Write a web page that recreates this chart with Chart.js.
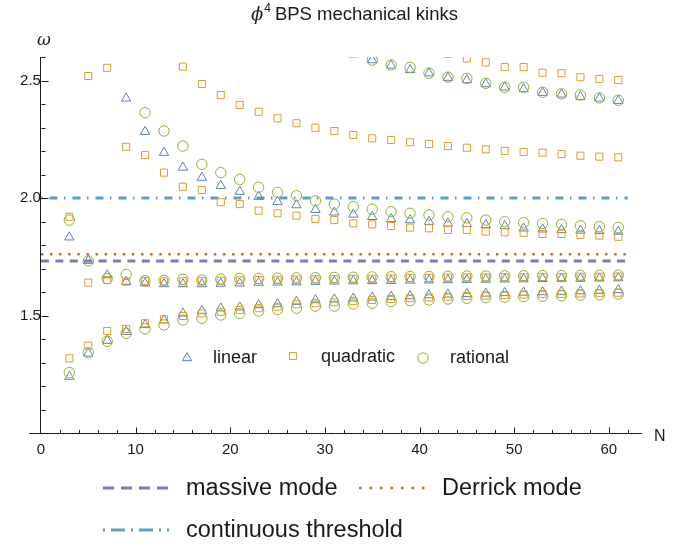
<!DOCTYPE html>
<html><head><meta charset="utf-8">
<script src="https://cdn.jsdelivr.net/npm/chart.js@4/dist/chart.umd.min.js"></script>
<style>html,body{margin:0;padding:0;background:#fff;}#wrap{width:687px;height:547px;}</style>
</head><body><div id="wrap"><canvas id="c" width="687" height="547"></canvas></div>
<script>
// ---------- data ----------
const N = [3,5,7,9,11,13,15,17,19,21,23,25,27,29,31,33,35,37,39,41,43,45,47,49,51,53,55,57,59,61];

const linearLow  = [1.240,1.339,1.393,1.431,1.460,1.480,1.509,1.520,1.531,1.535,1.545,1.549,1.559,1.566,1.569,1.573,1.577,1.580,1.583,1.587,1.590,1.592,1.594,1.596,1.598,1.600,1.602,1.604,1.606,1.609];
const linearMid  = [1.833,1.733,1.672,1.644,1.637,1.634,1.634,1.634,1.636,1.637,1.640,1.641,1.642,1.644,1.645,1.646,1.647,1.648,1.649,1.650,1.651,1.652,1.653,1.654,1.655,1.656,1.657,1.657,1.658,1.659];
const linearHigh = [null,null,null,2.424,2.282,2.193,2.130,2.087,2.052,2.027,2.006,1.984,1.970,1.950,1.939,1.930,1.920,1.911,1.906,1.899,1.892,1.890,1.886,1.881,1.871,1.867,1.864,1.862,1.860,1.857];
const linearTop  = [null,null,null,null,null,null,null,null,null,null,null,null,null,null,null,2.612,2.587,2.564,2.545,2.531,2.512,2.502,2.485,2.471,2.464,2.448,2.441,2.431,2.424,2.414];

const quadLow    = [1.318,1.372,1.434,1.443,1.467,1.484,1.498,1.509,1.516,1.523,1.531,1.537,1.548,1.552,1.556,1.562,1.566,1.570,1.573,1.577,1.580,1.583,1.585,1.587,1.589,1.591,1.592,1.594,1.595,1.597];
const quadMid    = [1.920,1.640,1.651,1.644,1.647,1.645,1.646,1.647,1.648,1.650,1.651,1.652,1.653,1.654,1.655,1.656,1.657,1.658,1.659,1.660,1.661,1.662,1.662,1.663,1.663,1.664,1.664,1.665,1.665,1.666];
const quadHigh   = [null,null,null,2.218,2.183,2.108,2.048,2.034,1.982,1.974,1.946,1.935,1.925,1.911,1.906,1.892,1.888,1.881,1.874,1.871,1.864,1.864,1.857,1.854,1.852,1.847,1.847,1.843,1.840,1.835];
const quadUpper  = [null,2.519,2.554,null,null,null,2.559,2.485,2.438,2.396,2.367,2.339,2.318,2.299,2.285,2.268,2.254,2.247,2.237,2.230,2.221,2.214,2.207,2.200,2.196,2.193,2.187,2.180,2.176,2.173];
const quadTop    = [null,null,null,null,null,null,null,null,null,null,null,null,null,null,null,null,null,null,null,null,2.614,2.594,2.577,2.557,2.557,2.533,2.531,2.514,2.506,2.502];

const ratLow     = [1.257,1.342,1.390,1.424,1.443,1.460,1.481,1.488,1.502,1.509,1.519,1.526,1.531,1.540,1.540,1.549,1.552,1.559,1.563,1.566,1.570,1.573,1.576,1.578,1.580,1.582,1.584,1.586,1.588,1.591];
const ratMid     = [1.906,1.732,1.657,1.675,1.648,1.650,1.654,1.651,1.655,1.658,1.658,1.659,1.660,1.661,1.662,1.663,1.664,1.665,1.666,1.666,1.667,1.668,1.668,1.669,1.669,1.670,1.670,1.671,1.671,1.672];
const ratHigh    = [null,null,null,null,2.363,2.285,2.221,2.143,2.108,2.079,2.046,2.024,2.010,1.988,1.974,1.963,1.952,1.942,1.935,1.928,1.920,1.916,1.906,1.899,1.895,1.892,1.888,1.882,1.878,1.875];
const ratTop     = [null,null,null,null,null,null,null,null,null,null,null,null,null,null,null,2.635,2.587,2.566,2.556,2.531,2.514,2.509,2.488,2.471,2.471,2.450,2.443,2.438,2.426,2.416];

const massiveMode = Math.sqrt(3);
const derrickMode = 1.761;
const continuousThreshold = 2.0;
const lineRange = [0, 62];

const xTickLabels = [0,10,20,30,40,50,60];
const yTickLabels = [1.5,2.0,2.5];

// ---------- styles ----------
const C_LIN = '#5E81B5', C_QUAD = '#E19C24', C_RAT = '#8FB032';
const C_MASS = '#8778B3', C_DER = '#C56E1A', C_CONT = '#5D9EC7';
const TXT = '#1a1a1a';
const FONT = '"Liberation Sans", Arial, sans-serif';
const R_TRI = 5.4, R_SQ = 5.0, R_CIR = 5.2;

function pts(arr){ return N.map((n,i)=>arr[i]==null?null:{x:n,y:arr[i]}).filter(Boolean); }
function scat(label, arr, color, style, r){
  return {type:'scatter', label, data:pts(arr), pointStyle:style, pointRadius:r, pointHoverRadius:r,
    pointBorderWidth:1, borderColor:color, pointBorderColor:color, backgroundColor:'rgba(0,0,0,0)',
    pointBackgroundColor:'rgba(0,0,0,0)', showLine:false, clip:0};
}
function hline(label, val, color, dash, w){
  return {type:'line', label, data:[{x:lineRange[0],y:val},{x:lineRange[1],y:val}], borderColor:color,
    borderWidth:w, borderDash:dash, borderCapStyle:'butt', pointRadius:0, fill:false, clip:0, order:10};
}

const datasets = [
  scat('rational', ratLow, C_RAT, 'circle', R_CIR), scat('rational', ratMid, C_RAT, 'circle', R_CIR),
  scat('rational', ratHigh, C_RAT, 'circle', R_CIR), scat('rational', ratTop, C_RAT, 'circle', R_CIR),
  scat('quadratic', quadLow, C_QUAD, 'rect', R_SQ), scat('quadratic', quadMid, C_QUAD, 'rect', R_SQ),
  scat('quadratic', quadHigh, C_QUAD, 'rect', R_SQ), scat('quadratic', quadUpper, C_QUAD, 'rect', R_SQ),
  scat('quadratic', quadTop, C_QUAD, 'rect', R_SQ),
  scat('linear', linearLow, C_LIN, 'triangle', R_TRI), scat('linear', linearMid, C_LIN, 'triangle', R_TRI),
  scat('linear', linearHigh, C_LIN, 'triangle', R_TRI), scat('linear', linearTop, C_LIN, 'triangle', R_TRI),
  hline('massive mode', massiveMode, C_MASS, [8,6.4], 3),
  hline('Derrick mode', derrickMode, C_DER, [2.4,6.7], 2.5),
  hline('continuous threshold', continuousThreshold, C_CONT, [1.5,7,8,6.5], 3)
];

// ---------- decorations plugin ----------
const deco = {
  id:'deco',
  afterDraw(chart){
    const {ctx, scales:{x,y}} = chart;
    const x0 = Math.round(x.getPixelForValue(0))+0.5, yb = Math.round(y.getPixelForValue(1.0))+0.5;
    ctx.save();
    // inward ticks
    ctx.strokeStyle = TXT; ctx.lineWidth = 1; ctx.beginPath();
    for(let v=2; v<=62; v+=2){ const px=Math.round(x.getPixelForValue(v))+0.5; const L=(v%10===0)?6:3.5; ctx.moveTo(px,yb); ctx.lineTo(px,yb-L); }
    for(let k=11; k<=26; k++){ const v=k/10; const py=Math.round(y.getPixelForValue(v))+0.5; const L=(k%5===0)?7:4; ctx.moveTo(x0,py); ctx.lineTo(x0+L,py); }
    ctx.stroke();
    // title
    ctx.fillStyle = TXT; ctx.textBaseline='alphabetic'; ctx.textAlign='left';
    let tx = 251, ty = 20;
    ctx.font = 'italic 18px "DejaVu Serif", serif'; ctx.fillText('ϕ', tx, ty); tx += ctx.measureText('ϕ').width + 1;
    ctx.font = '12px '+FONT; ctx.fillText('4', tx, ty-8); tx += ctx.measureText('4').width + 4;
    ctx.font = '18.5px '+FONT; ctx.fillText('BPS mechanical kinks', tx, ty);
    // axis labels
    ctx.font = 'italic 17px "DejaVu Serif", serif'; ctx.fillText('ω', 37, 45);
    ctx.font = '16px '+FONT; ctx.fillText('N', 654, 441);
    // inner legend
    ctx.textBaseline='middle'; ctx.font='18px '+FONT;
    const H = Chart.helpers;
    const sym = (style, r, color, px, py) => { ctx.strokeStyle=color; ctx.fillStyle='rgba(0,0,0,0)'; ctx.lineWidth=1;
      H.drawPoint(ctx, {pointStyle:style, radius:r, borderWidth:1}, px, py); };
    sym('triangle',R_TRI,C_LIN,187,358); sym('rect',R_SQ,C_QUAD,293,356); sym('circle',R_CIR,C_RAT,423,358);
    ctx.fillStyle = TXT;
    ctx.fillText('linear', 213, 358); ctx.fillText('quadratic', 321, 357); ctx.fillText('rational', 450, 358);
    // bottom legend
    const seg = (color, dash, w, x1, x2, yy) => { ctx.save(); ctx.strokeStyle=color; ctx.lineWidth=w; ctx.setLineDash(dash); ctx.lineCap='butt';
      ctx.beginPath(); ctx.moveTo(x1,yy); ctx.lineTo(x2,yy); ctx.stroke(); ctx.restore(); };
    seg(C_MASS,[11,7],3,103,169,488); seg(C_DER,[2.5,8],2.5,359,426,488); seg(C_CONT,[2,6,14,6],3,103,169,530);
    ctx.font='23.5px '+FONT; ctx.fillStyle=TXT;
    ctx.fillText('massive mode', 186, 489); ctx.fillText('Derrick mode', 442, 489); ctx.fillText('continuous threshold', 186, 531);
    ctx.restore();
  }
};

new Chart(document.getElementById('c'), {
  data:{datasets},
  options:{
    responsive:false, animation:false, devicePixelRatio:1,
    layout:{padding:{left:29.6, right:46, top:57, bottom:88}},
    plugins:{legend:{display:false}, title:{display:false}, tooltip:{enabled:false}},
    scales:{
      x:{type:'linear', position:'bottom', min:-1.2, max:63.4,
        grid:{display:false, drawTicks:false}, border:{display:true, color:TXT, width:1},
        afterBuildTicks:(s)=>{ s.ticks = xTickLabels.map(v=>({value:v})); },
        afterFit:(s)=>{ s.height = 26; },
        ticks:{autoSkip:false, maxRotation:0, padding:8, color:TXT, font:{family:FONT, size:15}, callback:(v)=>String(v)}},
      y:{type:'linear', position:{x:0}, min:1.0, max:2.6,
        grid:{display:false, drawTicks:false}, border:{display:true, color:TXT, width:1},
        afterBuildTicks:(s)=>{ s.ticks = yTickLabels.map(v=>({value:v})); },
        ticks:{autoSkip:false, padding:8, color:TXT, font:{family:FONT, size:15}, callback:(v)=>Number(v).toFixed(1)}}
    }
  },
  plugins:[deco]
});
</script>
</body></html>
